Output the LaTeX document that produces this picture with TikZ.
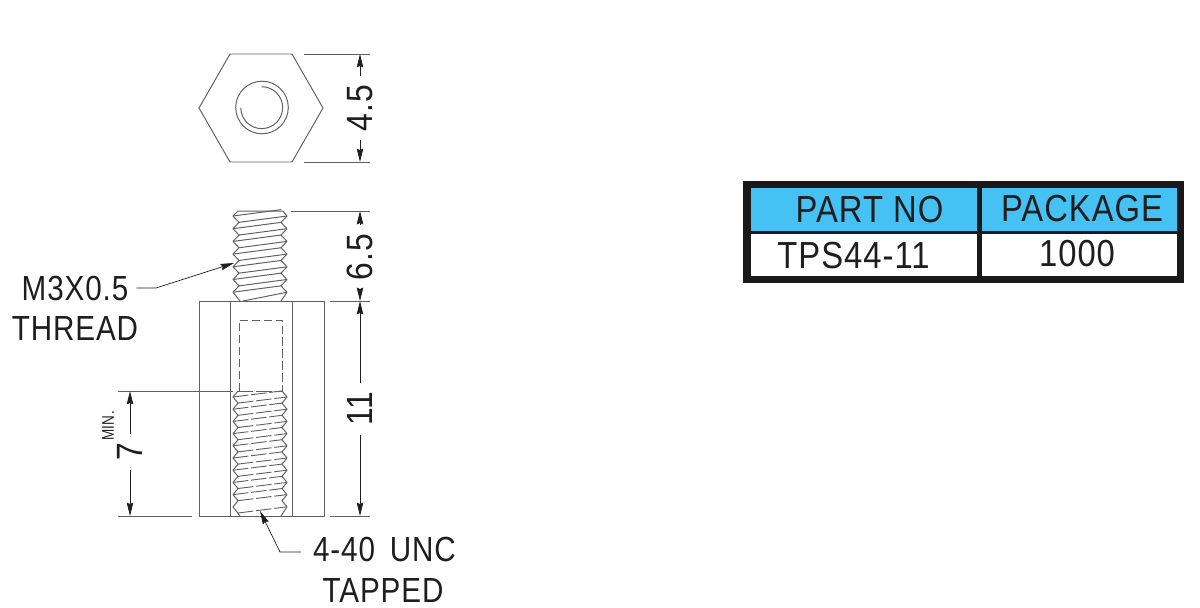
\documentclass[tikz,border=0pt]{standalone}
\usepackage{fontspec}
\setmainfont{Liberation Sans}[LetterSpace=3]
\usetikzlibrary{arrows.meta}
\definecolor{partblue}{HTML}{45C1F4}
\definecolor{inkgrey}{HTML}{606060}
\definecolor{txtgrey}{HTML}{1E1E1E}
\tikzset{
    part/.style={draw=inkgrey, line width=0.7pt},
    extline/.style={draw=inkgrey, line width=0.55pt},
    hidden/.style={draw=inkgrey, line width=0.65pt, dash pattern=on 6pt off 2.5pt},
    tapline/.style={draw=inkgrey, line width=0.65pt, dash pattern=on 11pt off 2pt},
    dimarrow/.style={draw=txtgrey, line width=0.5pt, -{Stealth[length=9.5pt,width=4.6pt,inset=1pt]}},
    lbl/.style={font=\fontsize{24.8}{30}\selectfont, text=txtgrey, inner sep=0pt, xscale=.85},
    dimval/.style={font=\fontsize{26}{30}\selectfont, text=txtgrey, inner sep=7pt, xscale=.87},
    tblval/.style={font=\fontsize{26.8}{30}\selectfont, text=txtgrey, inner sep=0pt, xscale=.87}
}
\newcommand{\tblcell}[5]{ \fill[#5] ( #1 , #2 ) rectangle ( #3 , #4 );}
\newcommand{\boltturn}[1]{
    \draw[part] ( 233 , #1 ) -- ( 239 , #1+6.35 ) -- ( 233 , #1+12.7 );
    \draw[part] ( 287 , #1 ) -- ( 281 , #1+6.35 ) -- ( 287 , #1+12.7 );
    \draw[part] ( 233 , #1 ) -- ( 281 , #1-6.35 );
    \draw[part] ( 239 , #1+6.35 ) -- ( 287 , #1 );}
\newcommand{\tapturn}[1]{
    \draw[part] ( 233 , #1 ) -- ( 238 , #1+6.1 ) -- ( 233 , #1+12.2 );
    \draw[part] ( 287 , #1 ) -- ( 282 , #1+6.1 ) -- ( 287 , #1+12.2 );
    \draw[tapline] ( 233 , #1 ) -- ( 282 , #1-6.1 );
    \draw[tapline] ( 238 , #1+6.1 ) -- ( 287 , #1 );}
\begin{document}
\begin{tikzpicture}[x=0.025cm,y=-0.025cm]
    \useasboundingbox (0,0) rectangle (1200,607);
    % hexagon, top view
    \draw[part] (199,108) -- (230,54) -- (292,54) -- (323,108) -- (292,162) -- (230,162) -- cycle;
    \draw[part] (262,107.5) circle (26.3);
    \draw[part] (261.7,86.7) arc[start angle=90, end angle=-180, radius=14.9pt];
    % bolt, upper end
    \draw[part] (233,216) -- (238,211) -- (283,211) -- (287,216);
    \boltturn{216}
    \boltturn{228.7}
    \boltturn{241.4}
    \boltturn{254.1}
    \boltturn{266.8}
    \boltturn{279.5}
    \draw[part] (233,292.2) -- (240,301);
    \draw[part] (287,292.2) -- (281,301);
    \draw[part] (233,292.2) -- (281,285.85);
    \draw[part] (243,301) -- (287,292.2);
    % body
    \draw[part] (199,301) rectangle (324,516);
    \draw[part] (230,301) -- (230,516);
    \draw[part] (292,301) -- (292,516);
    \draw[hidden] (239,391) -- (239,320) -- (282,320) -- (282,391);
    % tapped hole
    \draw[part] (233,397) -- (238,391);
    \draw[part] (287,397) -- (282,391);
    \draw[tapline] (238,391) -- (282,391);
    \tapturn{397}
    \tapturn{409.2}
    \tapturn{421.4}
    \tapturn{433.6}
    \tapturn{445.8}
    \tapturn{458}
    \tapturn{470.2}
    \tapturn{482.4}
    \tapturn{494.6}
    \draw[part] (233,506.8) -- (240,516);
    \draw[part] (287,506.8) -- (281,516);
    \draw[tapline] (238,513) -- (287,506.8);
    % extension lines
    \draw[extline] (304,54) -- (370,54);
    \draw[extline] (304,162) -- (370,162);
    \draw[extline] (291,211) -- (370,211);
    \draw[extline] (330,301) -- (370,301);
    \draw[extline] (330,516) -- (370,516);
    \draw[extline] (118,391) -- (233,391);
    \draw[extline] (118,516) -- (192,516);
    % dimension values
    \node[rotate=90, dimval] (val45) at (360,108) {4.5};
    \node[rotate=90, dimval] (val65) at (360,257) {6.5};
    \node[rotate=90, dimval] (val11) at (360,409) {11};
    \node[rotate=90, dimval] (val7) at (130,452) {7};
    \node[rotate=90, font=\fontsize{12}{14}\selectfont, text=txtgrey, inner sep=0pt, xscale=.8] (valmin) at (108,426) {MIN.};
    % dimension arrows
    \coordinate (top45) at (360,54);
    \coordinate (bot45) at (360,162);
    \coordinate (top65) at (360,211);
    \coordinate (bot65) at (360,301);
    \coordinate (top11) at (360,301);
    \coordinate (bot11) at (360,516);
    \coordinate (top7) at (130,391);
    \coordinate (bot7) at (130,516);
    \draw[dimarrow] (val45.east) -- (top45);
    \draw[dimarrow] (val45.west) -- (bot45);
    \draw[dimarrow] (val65.east) -- (top65);
    \draw[dimarrow] (val65.west) -- (bot65);
    \draw[dimarrow] (val11.east) -- (top11);
    \draw[dimarrow] (val11.west) -- (bot11);
    \draw[dimarrow] (val7.east) -- (top7);
    \draw[dimarrow] (val7.west) -- (bot7);
    % thread labels
    \node[lbl, inner sep=6.5pt] (lblm3) at (75,288) {M3X0.5};
    \node[lbl] (lblthread) at (75,328) {THREAD};
    \node[lbl, inner sep=10pt] (lbl440) at (384.5,549) {4-40\hspace{.5em}UNC};
    \node[lbl] (lbltapped) at (383,590) {TAPPED};
    \coordinate (kneem3) at (156,288);
    \coordinate (tipm3) at (234,263);
    \coordinate (knee440) at (280,552);
    \coordinate (tip440) at (260,511);
    \draw[dimarrow] (lblm3.east) -- (kneem3) -- (tipm3);
    \draw[dimarrow] (lbl440.west |- knee440) -- (knee440) -- (tip440);
    % table
    \tblcell{743}{181}{1184}{283}{black!90}
    \tblcell{751}{188}{977}{231}{partblue}
    \tblcell{982}{188}{1177}{231}{partblue}
    \tblcell{751}{234}{977}{276}{white}
    \tblcell{982}{234}{1177}{276}{white}
    \node[tblval] (partno) at (869.5,210) {PART NO};
    \node[tblval] (package) at (1082,209) {PACKAGE};
    \node[tblval] (tps) at (853.5,255.5) {TPS44-11};
    \node[tblval] (qty) at (1077,253.5) {1000};
\end{tikzpicture}
\end{document}
